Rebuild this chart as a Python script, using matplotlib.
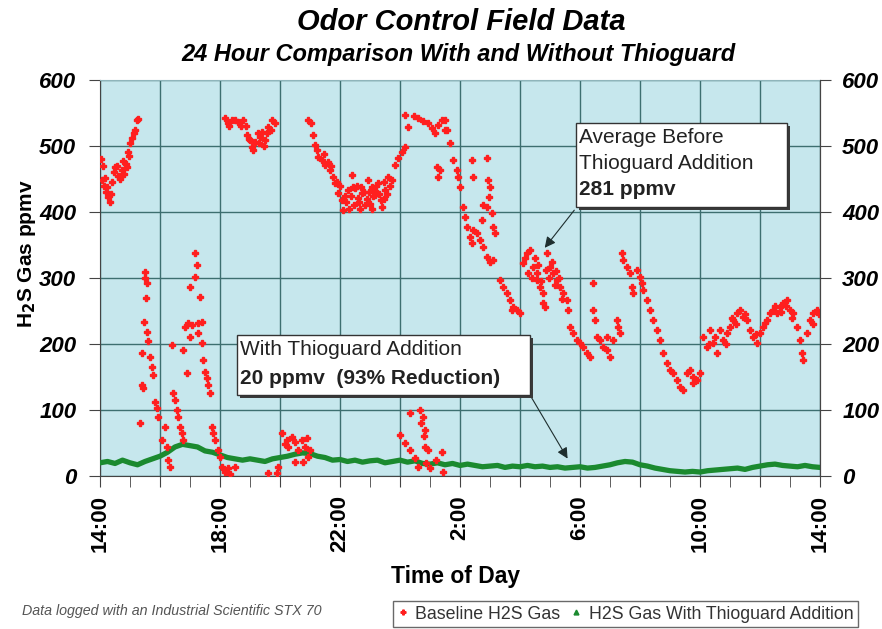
import matplotlib
matplotlib.use("Agg")
import matplotlib.pyplot as plt
from matplotlib.lines import Line2D
from matplotlib.patches import Rectangle

plt.rcParams["font.family"] = ["Liberation Sans", "DejaVu Sans"]

# Baseline H2S gas (hours after 14:00, ppmv)
base_hours = [
    0.03, 0.07, 0.1, 0.13, 0.2, 0.27, 0.33, 0.4, 0.5, 0.6, 0.65, 0.73, 0.8, 0.85, 0.93, 1.0, 1.07, 1.17, 1.23, 1.25,
    0.17, 0.23, 0.37, 0.45, 0.55, 0.7, 0.77, 0.9, 0.95, 1.12,
    1.5, 1.57, 1.47, 1.57, 1.4, 1.67, 1.73, 1.77, 1.4, 1.43, 1.83, 1.9, 1.93, 2.17, 2.07, 2.23, 2.27, 2.33, 1.33, 1.5, 1.53, 1.6,
    2.4, 2.43, 2.5, 2.57, 2.6, 2.67, 2.73, 2.77, 2.83, 2.93, 3.07, 3.27, 3.4, 3.17, 3.23, 3.17, 3.0, 3.33, 3.0, 3.27, 3.4,
    2.77, 2.9, 3.43, 3.5, 3.57, 3.6, 3.67, 3.73, 3.77, 3.83, 3.93, 4.0, 4.07, 4.17, 4.27, 4.5, 4.33,
    4.17, 4.4, 4.6, 4.77, 4.9, 5.0, 5.07, 5.17, 5.33, 5.4, 5.5, 5.6, 5.73, 5.83, 5.1, 4.25, 4.5, 4.85, 5.25, 5.45,
    4.3, 4.7, 4.95, 5.3, 5.55, 5.7,
    6.07, 6.23, 6.4, 6.5, 6.73, 6.9, 6.27, 6.6, 6.83, 5.93, 5.9, 6.5, 6.77, 6.93, 5.6, 6.15, 7.0,
    6.93, 7.03, 7.1, 7.17, 7.23, 7.27, 7.4, 7.5, 7.6, 7.67, 7.77, 7.83, 7.93, 8.07, 8.1, 8.27, 8.4, 8.5, 8.6, 8.73,
    8.83, 8.93, 9.07, 9.17, 9.27, 9.4, 9.5, 9.6, 9.73, 9.83, 9.93, 10.07, 10.17, 8.2, 8.35, 8.45, 8.55, 8.65, 8.8,
    8.9, 9.0, 9.1, 9.2, 9.35, 9.45, 9.55, 8.0, 7.9, 7.7, 7.45,
    8.15, 8.3, 8.42, 8.62, 8.7, 8.95, 9.05, 9.15, 9.3, 9.48, 9.65,
    10.17, 10.27, 10.6, 10.93, 11.07, 11.17, 11.27, 11.4, 11.5, 11.23, 11.27, 10.45, 10.75,
    10.0, 10.33, 10.67, 10.77, 10.83, 10.33, 10.5, 10.83, 10.93, 11.4, 10.6, 11.0, 11.43, 10.17, 10.7, 10.8, 10.87, 11.2,
    11.5, 11.57, 11.67, 11.77, 11.9, 11.93, 12.0, 12.1, 12.17, 12.23, 12.33, 12.4, 12.43, 12.57, 12.67, 12.77, 12.9,
    13.0, 13.1, 13.33, 13.43, 13.57, 13.67, 13.77, 13.9, 14.0, 13.73,
    12.4, 12.9, 12.43, 12.93, 13.0, 12.97, 12.9, 13.07, 13.1, 13.17, 12.77, 12.73, 11.33,
    14.1, 14.23, 14.33, 14.27, 14.43, 14.57, 14.67, 14.77, 14.9, 15.0, 15.1, 15.23, 15.33, 15.43, 15.57, 15.6,
    14.77, 14.57, 14.83, 14.5, 15.05, 15.2, 14.95,
    14.15, 14.4, 14.6, 14.7, 14.85, 15.15, 15.3, 15.4,
    15.67, 15.77, 15.9, 16.0, 16.1, 16.23, 16.33, 16.43, 16.43, 16.5, 16.57, 16.67, 16.77, 16.9, 17.0, 16.9, 17.1,
    17.23, 17.27, 17.33,
    17.4, 17.43, 17.57, 17.67, 17.73, 17.77, 17.9, 18.0, 18.07, 18.1, 18.23, 18.33, 18.43, 18.57, 18.67, 18.77,
    18.9, 19.0, 19.1, 19.23, 19.33, 19.43, 19.57, 19.67, 19.77, 19.9, 20.0, 19.77,
    20.1, 20.23, 20.33, 20.43, 20.57, 20.67, 20.77, 20.9, 21.0, 21.1, 21.23, 21.33, 21.43, 21.57, 21.67, 21.77,
    21.9, 22.0, 22.1, 22.23, 22.33, 22.43, 22.57, 22.67, 22.77, 22.9, 23.0, 23.1, 23.23, 23.33, 23.4, 23.43,
    23.57, 23.67, 23.77, 23.9,
    20.5, 20.85, 21.05, 21.5, 21.85, 22.15, 22.5, 22.7, 22.85, 23.05, 23.75, 23.95, 21.2, 20.3,
]
base_ppm = [
    480, 448, 470, 440, 430, 423, 415, 445, 468, 455, 450, 464, 458, 472, 491, 504, 512, 525, 539, 541,
    452, 438, 428, 460, 470, 455, 478, 468, 485, 520,
    309, 292, 233, 218, 186, 180, 165, 153, 138, 133, 112, 103, 90, 74, 55, 44, 24, 14, 80, 300, 270, 205,
    198, 126, 115, 100, 90, 74, 65, 55, 226, 232, 229, 232, 233, 338, 320, 302, 286, 271, 210, 216, 201,
    191, 156, 176, 158, 148, 138, 126, 74, 65, 55, 39, 29, 14, 6, 12, 14, 3,
    542, 539, 536, 539, 517, 509, 499, 506, 514, 521, 509, 529, 539, 535, 494, 535, 540, 530, 520, 500,
    530, 530, 510, 505, 520, 525,
    65, 55, 59, 52, 55, 58, 44, 39, 44, 14, 5, 21, 21, 29, 5, 48, 40,
    539, 535, 517, 501, 494, 484, 479, 471, 476, 464, 453, 444, 429, 418, 403, 433, 456, 436, 421, 429,
    411, 448, 438, 426, 444, 408, 433, 453, 448, 471, 482, 491, 499, 415, 425, 410, 440, 405, 430,
    420, 412, 425, 440, 418, 445, 428, 440, 445, 470, 488,
    425, 405, 438, 415, 438, 430, 405, 432, 428, 420, 440,
    547, 529, 542, 535, 527, 520, 532, 539, 524, 468, 453, 545, 538,
    62, 95, 100, 89, 70, 39, 27, 44, 39, 36, 14, 12, 6, 50, 80, 60, 20, 25,
    539, 524, 504, 479, 464, 453, 438, 408, 392, 377, 362, 353, 373, 368, 358, 347, 332,
    324, 327, 297, 286, 277, 267, 256, 252, 247, 252,
    479, 482, 453, 448, 438, 423, 408, 398, 377, 368, 411, 388, 464,
    323, 338, 342, 307, 317, 297, 286, 277, 338, 317, 307, 297, 286, 277, 267, 252,
    262, 307, 256, 330, 325, 310, 300,
    330, 300, 320, 295, 312, 290, 300, 268,
    226, 216, 206, 201, 196, 186, 180, 292, 252, 236, 211, 206, 196, 191, 180, 211, 206,
    236, 226, 216,
    338, 327, 317, 307, 286, 277, 312, 302, 292, 282, 267, 252, 236, 221, 206, 186,
    171, 161, 156, 145, 135, 130, 156, 161, 150, 145, 156, 141,
    211, 196, 221, 201, 186, 221, 206, 216, 226, 236, 247, 252, 241, 236, 221, 211,
    201, 216, 226, 236, 247, 252, 247, 256, 262, 267, 252, 247, 226, 206, 186, 176,
    216, 236, 247, 252,
    210, 200, 240, 245, 215, 232, 258, 248, 258, 240, 230, 245, 230, 200,
]

# H2S gas with Thioguard addition (every 15 minutes from 14:00)
thio_hours = [i * 0.25 for i in range(97)]
thio_ppm = [
    20, 22, 19, 24, 20, 17, 22, 26, 30, 36, 44, 48, 46, 44, 38, 36,
    32, 28, 26, 24, 26, 24, 22, 26, 28, 30, 33, 35, 34, 30, 28, 24,
    25, 22, 24, 21, 23, 24, 20, 22, 24, 21, 23, 19, 18, 20, 17, 19,
    16, 18, 16, 14, 15, 16, 13, 15, 14, 16, 14, 15, 13, 14, 12, 13,
    14, 12, 13, 15, 17, 20, 22, 21, 17, 15, 12, 10, 8, 7, 6, 7,
    6, 8, 9, 10, 11, 12, 10, 13, 15, 17, 18, 16, 15, 14, 16, 14, 13,
]

tick_pos = list(range(0, 25, 2))
tick_text = ["14:00", "", "18:00", "", "22:00", "", "2:00", "", "6:00", "", "10:00", "", "14:00"]
y_ticks = [0, 100, 200, 300, 400, 500, 600]

W, H = 882, 629


def fx(px):
    return px / W


def fy(py):
    return 1 - py / H


fig = plt.figure(figsize=(8.82, 6.29), dpi=100)
ax = fig.add_axes([fx(100), fy(476), fx(820) - fx(100), fy(80) - fy(476)])
ax.set_facecolor("#c6e7ed")

ax.plot(thio_hours, thio_ppm, color="#1b8a2f", lw=3.8, zorder=3)
ax.plot(base_hours, base_ppm, ls="none", marker="P", ms=4.2, color="#ff1f1f", mec="#ff1f1f", zorder=4)

ax.set_xlim(0, 24)
ax.set_ylim(0, 600)
ax.set_xticks(tick_pos)
ax.set_xticklabels(tick_text, rotation=90, fontweight="bold", fontsize=16)
ax.set_xticks(range(0, 25), minor=True)
ax.set_yticks(y_ticks)
ax.set_yticklabels([str(v) for v in y_ticks], fontweight="bold", style="italic", fontsize=16)
ax.grid(True, which="major", color="#3d6f70", lw=1)
ax.set_axisbelow(True)
ax.tick_params(axis="both", which="both", direction="out", length=8, color="#444444")
ax.tick_params(axis="x", pad=6)
ax.tick_params(axis="y", pad=9)
for s in ax.spines.values():
    s.set_color("#444444")
ax.spines["top"].set_color("#8fb5bb")

ax2 = ax.twinx()
ax2.set_ylim(0, 600)
ax2.set_yticks(y_ticks)
ax2.set_yticklabels([str(v) for v in y_ticks], fontweight="bold", style="italic", fontsize=16)
ax2.tick_params(axis="y", direction="out", length=8, color="#444444", pad=8)
for s in ax2.spines.values():
    s.set_visible(False)
ax2.spines["right"].set_visible(True)
ax2.spines["right"].set_color("#444444")

# titles and axis labels
fig.text(fx(461), fy(22), "Odor Control Field Data", ha="center", va="center",
         fontsize=21, fontweight="bold", style="italic")
fig.text(fx(458), fy(55), "24 Hour Comparison With and Without Thioguard", ha="center", va="center",
         fontsize=17, fontweight="bold", style="italic")
fig.text(fx(27), fy(254), r"H$_\mathbf{2}$S Gas ppmv", rotation=90, ha="center", va="center",
         fontsize=15, fontweight="bold")
fig.text(fx(456), fy(577), "Time of Day", ha="center", va="center", fontsize=16.5, fontweight="bold")
fig.text(fx(22), fy(611), "Data logged with an Industrial Scientific STX 70", ha="left", va="center",
         fontsize=10.3, style="italic", color="#555555")


# callout boxes
def callout(x0, y0, x1, y1, lines):
    shadow = Rectangle((fx(x0 + 3), fy(y1 + 3)), fx(x1) - fx(x0), fy(y0) - fy(y1),
                       transform=fig.transFigure, facecolor="#3a3a3a", edgecolor="none", zorder=5)
    box = Rectangle((fx(x0), fy(y1)), fx(x1) - fx(x0), fy(y0) - fy(y1),
                    transform=fig.transFigure, facecolor="white", edgecolor="#333333", lw=1, zorder=6)
    fig.patches.extend([shadow, box])
    for ty, txt, wt in lines:
        fig.text(fx(x0 + 3), fy(ty), txt, ha="left", va="baseline", fontsize=15,
                 fontweight=wt, color="#222222", zorder=7)


callout(576, 123, 787, 207, [(143, "Average Before", "normal"),
                             (169, "Thioguard Addition", "normal"),
                             (195, "281 ppmv", "bold")])
callout(237, 335, 530, 395, [(355, "With Thioguard Addition", "normal"),
                             (384, "20 ppmv  (93% Reduction)", "bold")])

arrow = dict(arrowstyle="-|>", color="#1e2e2e", lw=0.8, mutation_scale=16)
ax.annotate("", xy=(fx(543), fy(250)), xytext=(fx(576), fy(208)),
            xycoords="figure fraction", textcoords="figure fraction", arrowprops=arrow, zorder=8)
ax.annotate("", xy=(fx(569), fy(461)), xytext=(fx(530), fy(395)),
            xycoords="figure fraction", textcoords="figure fraction", arrowprops=arrow, zorder=8)

# legend along the bottom right edge
handles = [Line2D([], [], ls="none", marker="P", ms=3.5, color="#ff1f1f"),
           Line2D([], [], ls="none", marker="^", ms=3.5, color="#1b8a2f")]
fig.legend(handles, ["Baseline H2S Gas", "H2S Gas With Thioguard Addition"],
           loc="lower left", bbox_to_anchor=(fx(393), 1 - 627 / H), ncol=2,
           fontsize=12.8, frameon=True, fancybox=False, edgecolor="#444444", labelcolor="#333333",
           handlelength=0.6, handletextpad=0.4, columnspacing=0.6, borderpad=0.25,
           borderaxespad=0)

fig.savefig("out.png", dpi=100)
